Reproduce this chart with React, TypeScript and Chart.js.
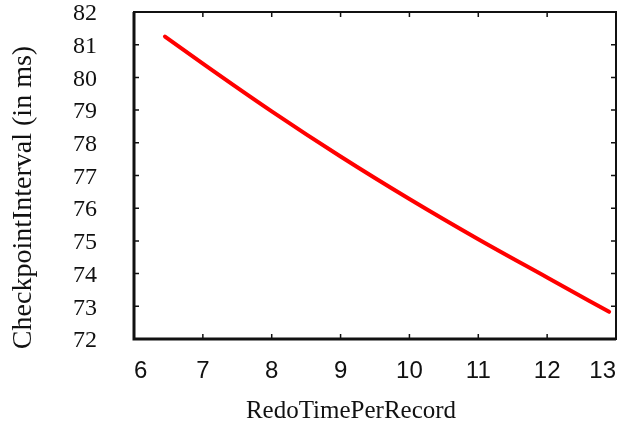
import React, { useEffect, useRef } from "react";
import { Chart, registerables } from "chart.js";

Chart.register(...registerables);

const redoTime = [6.45, 7, 8, 9, 10, 11, 12, 12.9];
const checkpointInterval = [81.25, 80.42, 78.96, 77.58, 76.28, 75.05, 73.88, 72.83];
const xTicks = [6, 7, 8, 9, 10, 11, 12, 13];
const yTicks = [72, 73, 74, 75, 76, 77, 78, 79, 80, 81, 82];
const xTitle = "RedoTimePerRecord";
const yTitle = "CheckpointInterval (in ms)";

const frame = {
  id: "frame",
  afterDatasetsDraw(chart: any) {
    const { ctx, chartArea: a, scales } = chart;
    ctx.save();
    ctx.strokeStyle = "#111";
    ctx.lineWidth = 1.5;
    const t = 5;
    ctx.beginPath();
    for (const v of xTicks) {
      const x = scales.x.getPixelForValue(v);
      ctx.moveTo(x, a.bottom);
      ctx.lineTo(x, a.bottom - t);
      ctx.moveTo(x, a.top);
      ctx.lineTo(x, a.top + t);
    }
    for (const v of yTicks) {
      const y = scales.y.getPixelForValue(v);
      ctx.moveTo(a.left, y);
      ctx.lineTo(a.left + t, y);
      ctx.moveTo(a.right, y);
      ctx.lineTo(a.right - t, y);
    }
    ctx.stroke();
    ctx.lineWidth = 2;
    ctx.strokeRect(a.left, a.top, a.right - a.left, a.bottom - a.top);
    ctx.lineWidth = 3;
    ctx.beginPath();
    ctx.moveTo(a.left, a.top);
    ctx.lineTo(a.left, a.bottom);
    ctx.lineTo(a.right, a.bottom);
    ctx.stroke();

    // axis titles
    ctx.fillStyle = "#111";
    ctx.textAlign = "center";
    ctx.textBaseline = "middle";
    ctx.font = "25px 'Liberation Serif'";
    ctx.fillText(xTitle, (a.left + a.right) / 2 - 24, a.bottom + 72);
    ctx.translate(24, (a.top + a.bottom) / 2 + 22);
    ctx.rotate(-Math.PI / 2);
    ctx.font = "28px 'Liberation Serif'";
    ctx.fillText(yTitle, 0, 0);
    ctx.restore();
  },
};

export default function App() {
  const ref = useRef<HTMLCanvasElement>(null);
  useEffect(() => {
    document.body.style.margin = "0";
    const chart = new Chart(ref.current!, {
      type: "scatter",
      data: {
        datasets: [
          {
            data: redoTime.map((x, i) => ({ x, y: checkpointInterval[i] })),
            showLine: true,
            borderColor: "#ff0000",
            borderWidth: 4,
            pointRadius: 0,
            cubicInterpolationMode: "monotone",
            borderCapStyle: "round",
          },
        ],
      },
      options: {
        animation: false,
        responsive: false,
        layout: { padding: { top: 12, right: 10, left: 0, bottom: 0 } },
        plugins: { legend: { display: false }, tooltip: { enabled: false } },
        scales: {
          x: {
            type: "linear",
            min: 6,
            max: 13,
            afterFit: (s: any) => {
              s.height = 90;
              s.paddingLeft = 0;
              s.paddingRight = 0;
            },
            afterBuildTicks: (s: any) => {
              s.ticks = xTicks.map((v) => ({ value: v }));
            },
            grid: { display: false, drawTicks: false },
            border: { display: false },
            ticks: {
              color: "#111",
              padding: 18,
              autoSkip: false,
              align: "inner",
              font: { family: "Liberation Sans", size: 24 },
              maxRotation: 0,
            },
          },
          y: {
            type: "linear",
            min: 72,
            max: 82,
            afterFit: (s: any) => {
              s.width = 134;
              s.paddingTop = 0;
              s.paddingBottom = 0;
            },
            afterBuildTicks: (s: any) => {
              s.ticks = yTicks.map((v) => ({ value: v }));
            },
            grid: { display: false, drawTicks: false },
            border: { display: false },
            ticks: {
              color: "#111",
              padding: 37,
              autoSkip: false,
              labelOffset: 2,
              font: { family: "Liberation Serif", size: 24 },
            },
          },
        },
      },
      plugins: [frame],
    } as any);
    return () => chart.destroy();
  }, []);
  return (
    <div style={{ width: 626, height: 429, background: "#fff" }}>
      <canvas ref={ref} width={626} height={429} style={{ display: "block" }} />
    </div>
  );
}
